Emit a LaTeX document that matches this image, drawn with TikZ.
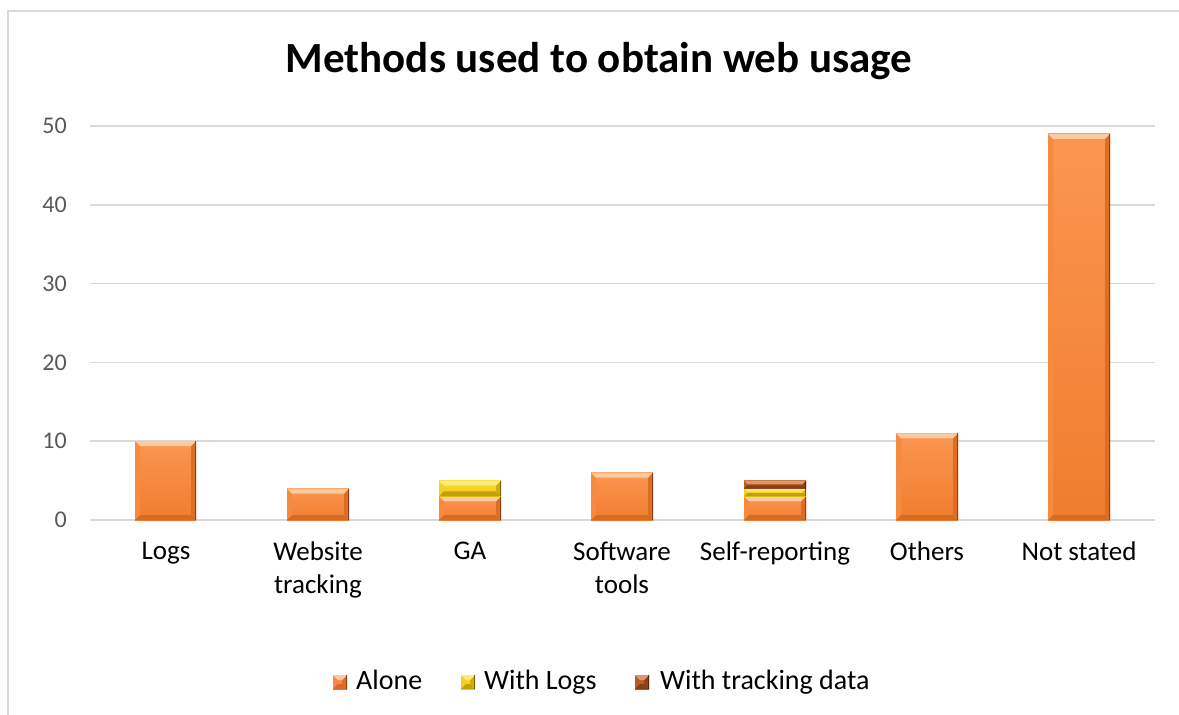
\documentclass[tikz,border=0pt]{standalone}
\usepackage{fontspec}
\setmainfont{Carlito}
\definecolor{grid}{HTML}{D9D9D9}
\definecolor{frame}{HTML}{D9D9D9}
\definecolor{tick}{HTML}{595959}
% orange
\definecolor{oFaceT}{HTML}{FB9651}
\definecolor{oFaceB}{HTML}{F07D2E}
\definecolor{oTop}{HTML}{FDC9A0}
\definecolor{oBot}{HTML}{D86A24}
\definecolor{oLeft}{HTML}{F68A3E}
\definecolor{oRight}{HTML}{DE6E26}
\definecolor{oEdge}{HTML}{8C4214}
% yellow
\definecolor{yFaceT}{HTML}{F8DA2A}
\definecolor{yFaceB}{HTML}{F2CB14}
\definecolor{yTop}{HTML}{FCEB80}
\definecolor{yBot}{HTML}{C4A00A}
\definecolor{yLeft}{HTML}{F4D020}
\definecolor{yRight}{HTML}{D2AE0C}
\definecolor{yEdge}{HTML}{7A6200}
% brown
\definecolor{bFaceT}{HTML}{C2682F}
\definecolor{bFaceB}{HTML}{AE5522}
\definecolor{bTop}{HTML}{DE9868}
\definecolor{bBot}{HTML}{8A3E14}
\definecolor{bLeft}{HTML}{B65E28}
\definecolor{bRight}{HTML}{92421A}
\definecolor{bEdge}{HTML}{5A2608}
\newcommand\bevbar[5]{%
 \pgfmathsetmacro\bv{min(5,(#4-#3)/2.5)}%
 \shade[top color=#5FaceT,bottom color=#5FaceB] (#1,#3) rectangle (#2,#4);
 \fill[#5Left] (#1,#3) -- (#1+\bv,#3+\bv) -- (#1+\bv,#4-\bv) -- (#1,#4) -- cycle;
 \fill[#5Right] (#2,#3) -- (#2-\bv,#3+\bv) -- (#2-\bv,#4-\bv) -- (#2,#4) -- cycle;
 \fill[#5Top] (#1,#3) -- (#2,#3) -- (#2-\bv,#3+\bv) -- (#1+\bv,#3+\bv) -- cycle;
 \fill[#5Bot] (#1,#4) -- (#2,#4) -- (#2-\bv,#4-\bv) -- (#1+\bv,#4-\bv) -- cycle;
 \draw[#5Edge, line width=0.9pt] (#2-0.45,#3) -- (#2-0.45,#4);
}
\tikzset{
 ticklbl/.style={anchor=east, text=tick, font=\fontsize{24}{28}\selectfont, inner sep=0pt},
 catlbl/.style={anchor=north, align=center, font=\fontsize{27}{33}\selectfont, inner sep=0pt},
 leglbl/.style={anchor=base west, font=\fontsize{28}{32}\selectfont, inner sep=0pt},
}
\begin{document}
\begin{tikzpicture}[x=1pt,y=-1pt]
\useasboundingbox (0,0) rectangle (1179,715);
\fill[white] (0,0) rectangle (1179,715);
% frame
\draw[frame, line width=1.5pt] (8,716) -- (8,11) -- (1180,11);
% title
\node[font=\bfseries\fontsize{43}{48}\selectfont, inner sep=0pt] (title) at (599,61) {Methods used to obtain web usage};
% grid
\foreach \v in {0,10,...,50}{
  \draw[grid, line width=1.5pt] (90,520-7.88*\v) -- (1155,520-7.88*\v);
  \node[ticklbl] (t\v) at (67,520-7.88*\v) {\v};
}
% bars
\bevbar{135}{196}{441.2}{520}{o}
\bevbar{287}{349}{488.5}{520}{o}
\bevbar{439}{501}{496.4}{520}{o}
\bevbar{439}{501}{480.6}{496.4}{y}
\bevbar{591}{653}{472.7}{520}{o}
\bevbar{744}{806}{496.4}{520}{o}
\bevbar{744}{806}{488.5}{496.4}{y}
\bevbar{744}{806}{480.6}{488.5}{b}
\bevbar{896}{958}{433.3}{520}{o}
\bevbar{1048}{1110}{133.9}{520}{o}
% category labels
\node[catlbl] (c1) at (166,542) {Logs};
\node[catlbl] (c2) at (318,542) {Website\\tracking};
\node[catlbl] (c3) at (470,542) {GA};
\node[catlbl] (c4) at (622,542) {Software\\tools};
\node[catlbl] (c5) at (775,542) {Self-reporting};
\node[catlbl] (c6) at (927,542) {Others};
\node[catlbl] (c7) at (1079,542) {Not stated};
% legend
\bevbar{333}{347}{675}{689}{o}
\node[leglbl] (l1) at (356,689) {Alone};
\bevbar{461}{475}{675}{689}{y}
\node[leglbl] (l2) at (484,689) {With Logs};
\bevbar{635}{649}{675}{689}{b}
\node[leglbl] (l3) at (660,689) {With tracking data};
\end{tikzpicture}
\end{document}
